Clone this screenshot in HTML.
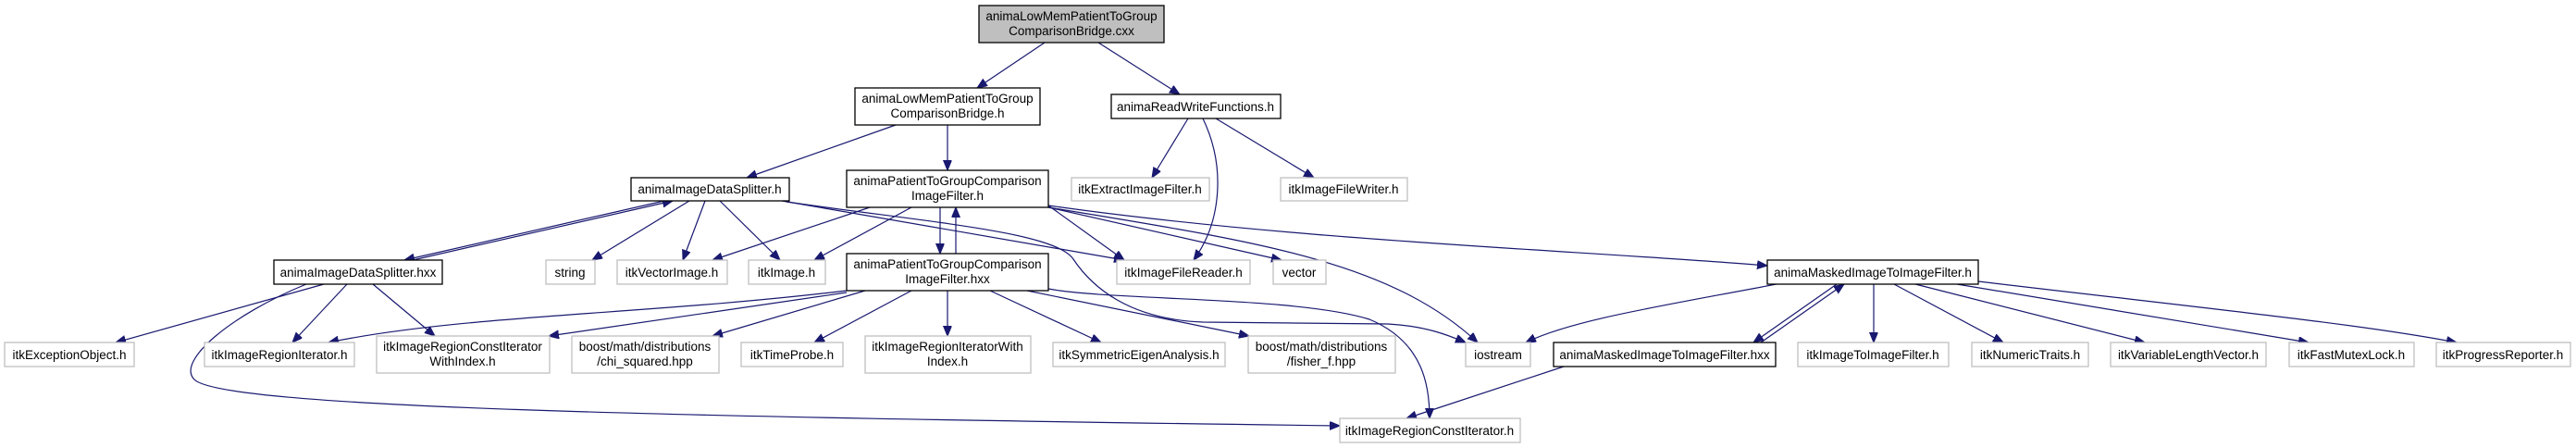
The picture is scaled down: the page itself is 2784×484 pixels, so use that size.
<!DOCTYPE html>
<html><head><meta charset="utf-8"><style>
html,body{margin:0;padding:0;background:#fff;}
svg{display:block;}
text{font-family:"Liberation Sans",sans-serif;font-size:13.5px;fill:#000;text-anchor:middle;}
.e{fill:none;stroke:#191970;stroke-width:1.2;marker-end:url(#a);}
.n{fill:#fff;stroke:#000;stroke-width:1.3;}
.g{fill:#fff;stroke:#bfbfbf;stroke-width:1.3;}
</style></head><body>
<svg width="2784" height="484" viewBox="0 0 2784 484" xmlns="http://www.w3.org/2000/svg">
<defs><marker id="a" markerUnits="userSpaceOnUse" markerWidth="12" markerHeight="10" refX="11" refY="4.5" orient="auto"><path d="M0,0 L11,4.5 L0,9 Z" fill="#191970" stroke="#191970"/></marker></defs>

<!-- edges -->
<path class="e" d="M1129,46 L1056,95"/>
<path class="e" d="M1187,46 L1275,102"/>
<path class="e" d="M968,135 L807,192"/>
<path class="e" d="M1024,135 L1024,184"/>
<path class="e" d="M1284,128 L1245,192"/>
<path class="e" d="M1300,128 C1325,180 1320,240 1290,281"/>
<path class="e" d="M1314,128 L1420,192"/>
<path class="e" d="M718,217 L437,281"/>
<path class="e" d="M446,281 L727,217"/>
<path class="e" d="M745,217 L640,281"/>
<path class="e" d="M762,217 L738,281"/>
<path class="e" d="M778,217 L843,281"/>
<path class="e" d="M845,217 L1215,281"/>
<path class="e" d="M850,218 C1000,240 1140,250 1160,280 S1220,345 1300,348 L1500,350 C1540,352 1565,362 1584,370"/>
<path class="e" d="M940,224 L770,281"/>
<path class="e" d="M985,224 L880,281"/>
<path class="e" d="M1016,224 L1016,274"/>
<path class="e" d="M1033,274 L1033,224"/>
<path class="e" d="M1133,222 L1215,281"/>
<path class="e" d="M1133,224 L1385,281"/>
<path class="e" d="M1133,224 C1350,260 1500,280 1597,370"/>
<path class="e" d="M1133,222 C1400,260 1700,270 1910,287"/>
<path class="e" d="M350,307 L125,370"/>
<path class="e" d="M375,307 L316,370"/>
<path class="e" d="M403,307 L470,363"/>
<path class="e" d="M331,307 C250,340 190,390 210,410 C240,440 700,450 1448,460"/>
<path class="e" d="M915,314 C700,340 500,340 355,370"/>
<path class="e" d="M915,316 L593,363"/>
<path class="e" d="M935,314 L770,363"/>
<path class="e" d="M985,314 L880,370"/>
<path class="e" d="M1024,314 L1024,363"/>
<path class="e" d="M1070,314 L1190,370"/>
<path class="e" d="M1110,314 L1350,363"/>
<path class="e" d="M1133,312 C1200,325 1400,320 1480,345 C1540,370 1545,420 1545,452"/>
<path class="e" d="M1925,306 C1800,330 1700,345 1649,370"/>
<path class="e" d="M1985,307 L1895,370"/>
<path class="e" d="M1903,370 L1993,307"/>
<path class="e" d="M2025,307 L2025,370"/>
<path class="e" d="M2047,307 L2165,370"/>
<path class="e" d="M2070,307 L2318,370"/>
<path class="e" d="M2115,307 L2495,370"/>
<path class="e" d="M2138,304 C2400,335 2550,350 2655,370"/>
<path class="e" d="M1690,396 L1520,452"/>

<!-- nodes -->
<rect x="1058" y="6" width="200" height="40" fill="#bfbfbf" stroke="#000" stroke-width="1.3"/>
<text x="1158" y="22">animaLowMemPatientToGroup</text><text x="1158" y="38">ComparisonBridge.cxx</text>

<rect class="n" x="924" y="95" width="200" height="40"/>
<text x="1024" y="111">animaLowMemPatientToGroup</text><text x="1024" y="127">ComparisonBridge.h</text>

<rect class="n" x="1201" y="102" width="183" height="26"/><text x="1292" y="120">animaReadWriteFunctions.h</text>

<rect class="n" x="682" y="192" width="171" height="25"/><text x="767" y="209">animaImageDataSplitter.h</text>

<rect class="n" x="915" y="184" width="218" height="40"/>
<text x="1024" y="200">animaPatientToGroupComparison</text><text x="1024" y="216">ImageFilter.h</text>

<rect class="g" x="1158" y="192" width="149" height="25"/><text x="1232" y="209">itkExtractImageFilter.h</text>
<rect class="g" x="1384" y="192" width="137" height="25"/><text x="1452" y="209">itkImageFileWriter.h</text>

<rect class="n" x="296" y="281" width="182" height="26"/><text x="387" y="299">animaImageDataSplitter.hxx</text>
<rect class="g" x="590" y="281" width="53" height="26"/><text x="616" y="299">string</text>
<rect class="g" x="667" y="281" width="119" height="26"/><text x="726" y="299">itkVectorImage.h</text>
<rect class="g" x="809" y="281" width="83" height="26"/><text x="850" y="299">itkImage.h</text>

<rect class="n" x="915" y="274" width="218" height="40"/>
<text x="1024" y="290">animaPatientToGroupComparison</text><text x="1024" y="306">ImageFilter.hxx</text>

<rect class="g" x="1207" y="281" width="144" height="26"/><text x="1279" y="299">itkImageFileReader.h</text>
<rect class="g" x="1376" y="281" width="57" height="26"/><text x="1404" y="299">vector</text>
<rect class="n" x="1910" y="281" width="228" height="26"/><text x="2024" y="299">animaMaskedImageToImageFilter.h</text>

<rect class="g" x="5" y="370" width="140" height="26"/><text x="75" y="388">itkExceptionObject.h</text>
<rect class="g" x="221" y="370" width="162" height="26"/><text x="302" y="388">itkImageRegionIterator.h</text>
<rect class="g" x="407" y="363" width="187" height="40"/><text x="500" y="379">itkImageRegionConstIterator</text><text x="500" y="395">WithIndex.h</text>
<rect class="g" x="618" y="363" width="159" height="40"/><text x="697" y="379">boost/math/distributions</text><text x="697" y="395">/chi_squared.hpp</text>
<rect class="g" x="801" y="370" width="110" height="26"/><text x="856" y="388">itkTimeProbe.h</text>
<rect class="g" x="935" y="363" width="179" height="40"/><text x="1024" y="379">itkImageRegionIteratorWith</text><text x="1024" y="395">Index.h</text>
<rect class="g" x="1138" y="370" width="186" height="26"/><text x="1231" y="388">itkSymmetricEigenAnalysis.h</text>
<rect class="g" x="1349" y="363" width="159" height="40"/><text x="1428" y="379">boost/math/distributions</text><text x="1428" y="395">/fisher_f.hpp</text>
<rect class="g" x="1584" y="370" width="70" height="26"/><text x="1619" y="388">iostream</text>
<rect class="n" x="1679" y="370" width="240" height="26"/><text x="1799" y="388">animaMaskedImageToImageFilter.hxx</text>
<rect class="g" x="1943" y="370" width="163" height="26"/><text x="2024" y="388">itkImageToImageFilter.h</text>
<rect class="g" x="2131" y="370" width="126" height="26"/><text x="2194" y="388">itkNumericTraits.h</text>
<rect class="g" x="2281" y="370" width="168" height="26"/><text x="2365" y="388">itkVariableLengthVector.h</text>
<rect class="g" x="2474" y="370" width="135" height="26"/><text x="2541" y="388">itkFastMutexLock.h</text>
<rect class="g" x="2633" y="370" width="145" height="26"/><text x="2705" y="388">itkProgressReporter.h</text>

<rect class="g" x="1448" y="452" width="195" height="26"/><text x="1545" y="470">itkImageRegionConstIterator.h</text>
</svg>
</body></html>
